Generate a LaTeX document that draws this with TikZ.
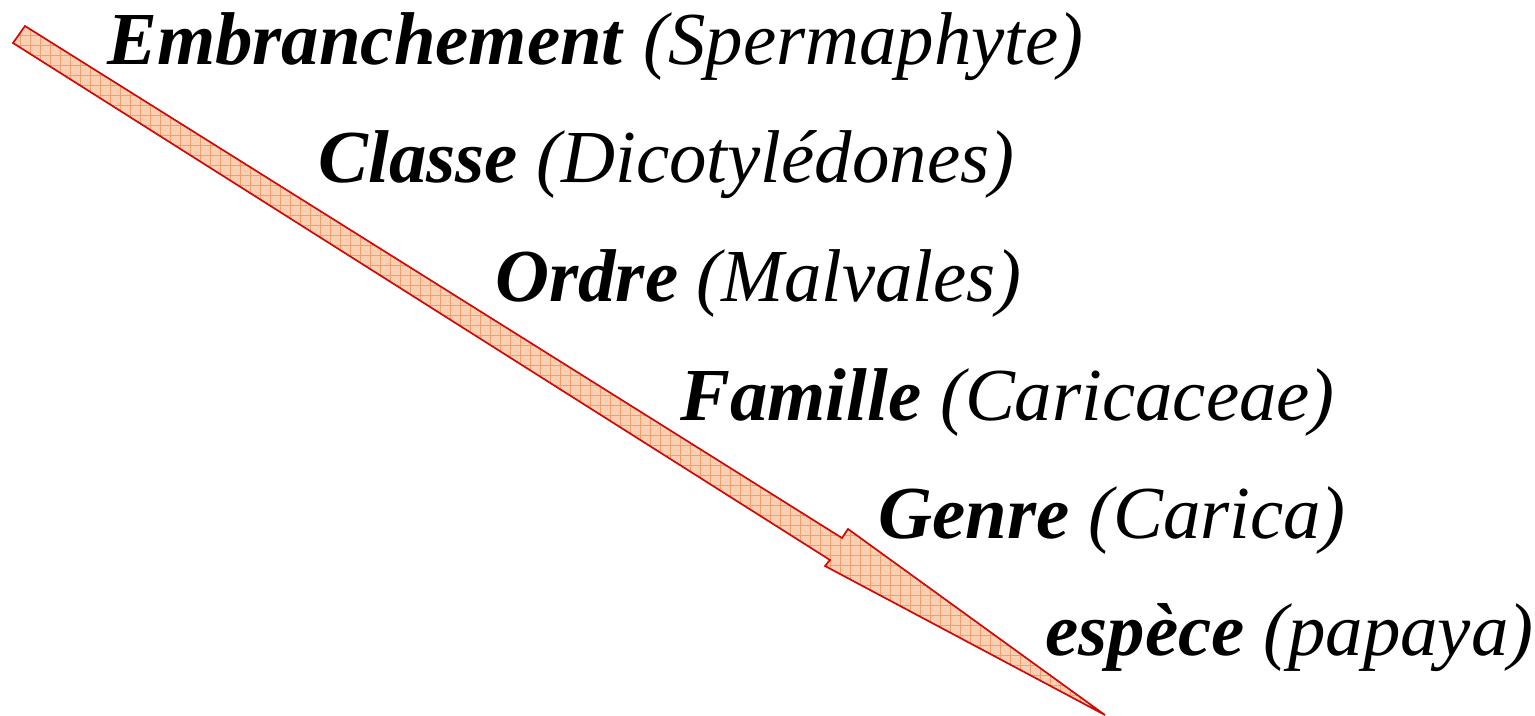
\documentclass[tikz,border=0pt]{standalone}
\usepackage{fontspec}
\setmainfont{Liberation Serif}
\usetikzlibrary{patterns.meta}
\definecolor{arrfill}{RGB}{250,208,180}
\definecolor{arrhatch}{RGB}{242,160,105}
\definecolor{arrline}{RGB}{205,10,10}
\begin{document}
\begin{tikzpicture}[x=0.5pt,y=-0.5pt,
  lbl/.style={anchor=base west,inner sep=0pt,font=\fontsize{37.4}{40}\selectfont}]
\useasboundingbox (0,0) rectangle (1535,716);
% arrow
\coordinate (t1) at (25,26);
\coordinate (s1) at (842,538);
\coordinate (b1) at (848,529);
\coordinate (tip) at (1105,715);
\coordinate (b2) at (825,566);
\coordinate (s2) at (830,560);
\coordinate (t2) at (13,43);
\fill[arrfill] (t1) -- (s1) -- (b1) -- (tip) -- (b2) -- (s2) -- (t2) -- cycle;
\fill[pattern={Lines[distance=5pt,angle=0,line width=0.5pt]},pattern color=arrhatch] (t1) -- (s1) -- (b1) -- (tip) -- (b2) -- (s2) -- (t2) -- cycle;
\fill[pattern={Lines[distance=5pt,angle=90,line width=0.5pt]},pattern color=arrhatch] (t1) -- (s1) -- (b1) -- (tip) -- (b2) -- (s2) -- (t2) -- cycle;
\draw[arrline,line width=0.85pt,line join=miter] (t1) -- (s1) -- (b1) -- (tip) -- (b2) -- (s2) -- (t2) -- cycle;
% labels
\node[lbl] (emb) at (107,65) {\textbf{\textit{Embranchement}} \textit{(Spermaphyte)}};
\node[lbl] (cla) at (318,183) {\textbf{\textit{Classe}} \textit{(Dicotylédones)}};
\node[lbl] (ord) at (495,302) {\textbf{\textit{Ordre}} \textit{(Malvales)}};
\node[lbl] (fam) at (680,420) {\textbf{\textit{Famille}} \textit{(Caricaceae)}};
\node[lbl] (gen) at (878,538) {\textbf{\textit{Genre}} \textit{(Carica)}};
\node[lbl] (esp) at (1045,655) {\textbf{\textit{espèce}} \textit{(papaya)}};
\end{tikzpicture}
\end{document}
